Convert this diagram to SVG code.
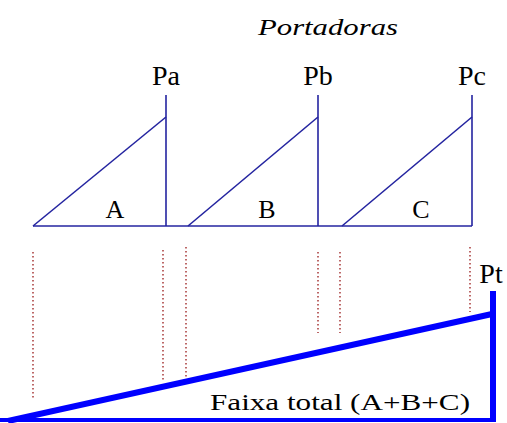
<svg xmlns="http://www.w3.org/2000/svg" width="507" height="423" viewBox="0 0 507 423">
<style>
.band{stroke:#2424a0;stroke-width:1.6;fill:none}
.dot{stroke:#a02828;stroke-width:1.4;stroke-dasharray:1.4 2.6;fill:none}
.tot{stroke:#0000ff;fill:none}
</style>
<rect width="507" height="423" fill="#fff"/>
<g font-family="Liberation Serif, DejaVu Serif, serif" fill="#000">
<text x="328" y="35" font-size="24" font-style="italic" text-anchor="middle" textLength="140" lengthAdjust="spacingAndGlyphs">Portadoras</text>
<g id="connectors">
<line class="band" x1="33" y1="226" x2="472" y2="226"/>
<g class="dot">
<line x1="33" y1="252" x2="33" y2="400"/>
<line x1="163" y1="250" x2="163" y2="382"/>
<line x1="186" y1="247" x2="186" y2="380"/>
<line x1="318" y1="252" x2="318" y2="333"/>
<line x1="340" y1="252" x2="340" y2="333"/>
<line x1="470" y1="247" x2="470" y2="312"/>
</g>
</g>
<g id="nodeA">
<polyline class="band" points="33,226 166,117"/>
<line class="band" x1="166" y1="95" x2="166" y2="226"/>
<text x="166" y="85" font-size="28" text-anchor="middle">Pa</text>
<text x="115" y="218" font-size="26" text-anchor="middle">A</text>
</g>
<g id="nodeB">
<polyline class="band" points="188,226 318,117"/>
<line class="band" x1="318" y1="95" x2="318" y2="226"/>
<text x="318" y="85" font-size="28" text-anchor="middle">Pb</text>
<text x="267" y="218" font-size="26" text-anchor="middle">B</text>
</g>
<g id="nodeC">
<polyline class="band" points="342,226 472,117"/>
<line class="band" x1="472" y1="95" x2="472" y2="226"/>
<text x="472" y="85" font-size="28" text-anchor="middle">Pc</text>
<text x="421" y="218" font-size="26" text-anchor="middle">C</text>
</g>
<g id="nodeTotal">
<line class="tot" x1="0" y1="420" x2="496" y2="420" stroke-width="4"/>
<line class="tot" x1="8" y1="421" x2="492" y2="314" stroke-width="6"/>
<line class="tot" x1="493" y1="291" x2="493" y2="422" stroke-width="6"/>
<text x="491" y="283" font-size="28" text-anchor="middle">Pt</text>
<text x="210" y="410" font-size="23" textLength="260" lengthAdjust="spacingAndGlyphs">Faixa total (A+B+C)</text>
</g>
</g>
</svg>
